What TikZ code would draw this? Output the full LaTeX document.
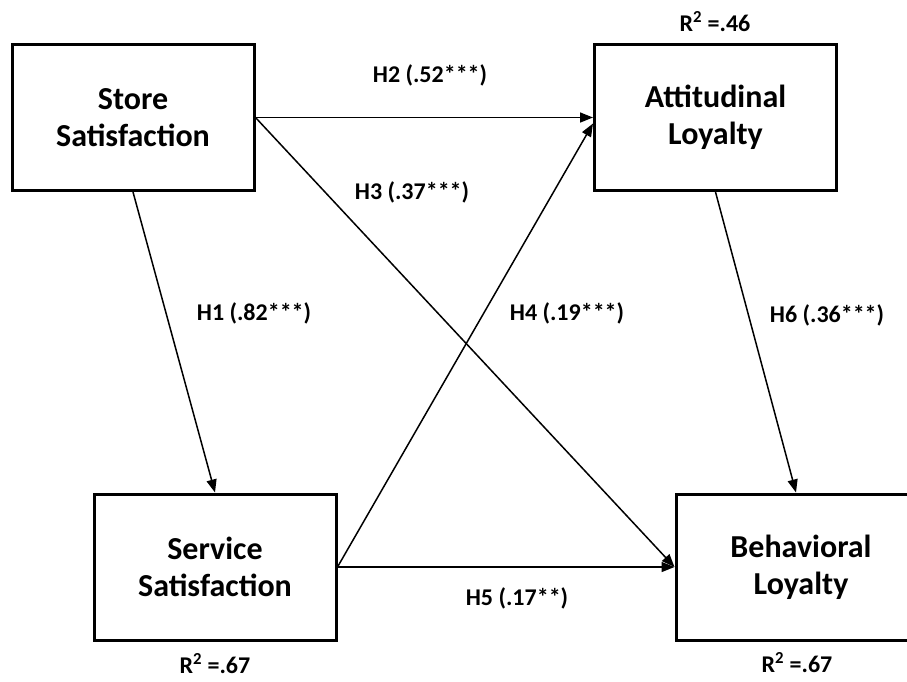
\documentclass[tikz,border=0pt]{standalone}
\usepackage{fontspec}
\setmainfont{Carlito}
\usetikzlibrary{arrows.meta}

\begin{document}
\begin{tikzpicture}[x=1pt, y=-1pt,
        box/.style={draw, line width=3pt, minimum width=242pt, minimum height=146pt,
            align=center, font=\fontsize{32}{37}\selectfont\bfseries},
        lbl/.style={font=\fontsize{24}{28}\selectfont\bfseries},
        rsq/.style={lbl, inner sep=0pt},
        link/.style={line width=1.5pt, -{Triangle[length=13pt,width=10pt]}}]
            \useasboundingbox (0,0) rectangle (907,681);
            \fill[white] (0,0) rectangle (907,681);

            % constructs
            \node[box] (store) at (133,117.5) {Store\\Satisfaction};
            \node[box] (att) at (715.5,117.5) {Attitudinal\\Loyalty};
            \node[box] (serv) at (215,567) {Service\\Satisfaction};
            \node[box, minimum width=250pt] (beh) at (801,567) {Behavioral\\Loyalty};

            % explained variance
            \node[rsq] (r2att) at (715,22) {R\textsuperscript{2} =.46};
            \node[rsq] (r2serv) at (215,664) {R\textsuperscript{2} =.67};
            \node[rsq] (r2beh) at (797,663) {R\textsuperscript{2} =.67};

            % paths
            \draw[link] (store.south) -- (serv.north);
            \draw[link] (store.east) -- (att.west);
            \draw[link] (store.east) -- (beh.west);
            \draw[link] (serv.east) -- ([yshift=-6pt]att.west);
            \draw[link] (serv.east) -- (beh.west);
            \draw[link] (att.south) -- ([xshift=-5pt]beh.north);

            \node[lbl] (h1) at (254,313) {H1 (.82***)};
            \node[lbl] (h2) at (430,75) {H2 (.52***)};
            \node[lbl] (h3) at (412,192) {H3 (.37***)};
            \node[lbl] (h4) at (567,313) {H4 (.19***)};
            \node[lbl] (h5) at (517,598) {H5 (.17**)};
            \node[lbl] (h6) at (827,315) {H6 (.36***)};
        \end{tikzpicture}
\end{document}
